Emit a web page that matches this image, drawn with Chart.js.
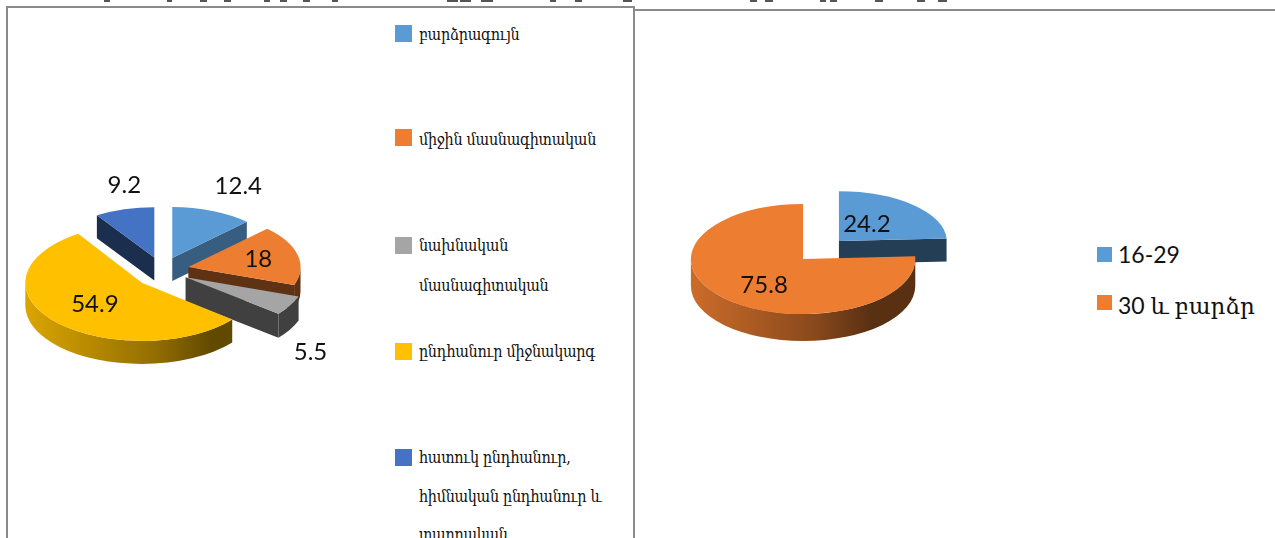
<!DOCTYPE html>
<html lang="hy"><head><meta charset="utf-8">
<script src="https://cdn.jsdelivr.net/npm/chart.js@4"></script>
<style>
html,body{margin:0;padding:0;background:#fff;overflow:hidden;width:1275px;height:538px}
#page{position:relative;width:1275px;height:538px;overflow:hidden}
.frame{position:absolute;box-sizing:border-box;border:0 solid #8a8a8a}
#f1{left:6px;top:6px;width:629px;height:540px;border-width:2px}
#f2{left:635px;top:9px;width:640px;height:2px;background:#8a8a8a}
canvas{position:absolute}
#c1{left:-8px;top:100px}
#c2{left:651px;top:78px}
.sw{position:absolute}
.st{position:absolute;top:0;height:2px;background:#555}
.lg{position:absolute;white-space:nowrap;color:#111}
.l1{font:16px/20px "DejaVu Serif Condensed","DejaVu Serif",serif;letter-spacing:-.3px}
.l2{font:23px/30px Lato,"DejaVu Serif",sans-serif}
</style></head><body><div id="page">
<div class="frame" id="f1"></div><div class="frame" id="f2"></div>
<canvas id="c1" width="340" height="340" style="width:340px;height:340px"></canvas>
<canvas id="c2" width="340" height="340" style="width:340px;height:340px"></canvas>
</div>
<script>
const eduLabels=["բարձրագույն","միջին մասնագիտական","նախնական մասնագիտական","ընդհանուր միջնակարգ","հատուկ ընդհանուր, հիմնական ընդհանուր և տարրական"];
const eduValues=[12.4,18,5.5,54.9,9.2];
const eduColors=["#5b9bd5","#ed7d31","#a5a5a5","#ffc000","#4472c4"];
const ageLabels=["16-29","30 և բարձր"];
const ageValues=[24.2,75.8];
const ageColors=["#5b9bd5","#ed7d31"];
const eduLegendLines=[["բարձրագույն"],["միջին մասնագիտական"],["նախնական","մասնագիտական"],["ընդհանուր միջնակարգ"],["հատուկ ընդհանուր,","հիմնական ընդհանուր և","տարրական"]];

const page=document.getElementById('page');
function shade(hex,f){const n=parseInt(hex.slice(1),16);const c=[n>>16,(n>>8)&255,n&255].map(v=>Math.round(v*f));return `rgb(${c})`;}
function rimSegs(s,e){
  const out=[],t=Math.PI*2;
  for(let n=-2;n<=2;n++){const u=Math.max(s,n*t),v=Math.min(e,n*t+Math.PI);if(v>u)out.push([u,v]);}
  return out;
}
const tilt={
  id:'tilt',
  beforeDatasetDraw(chart,args,o){
    const ctx=chart.ctx,els=args.meta.data;
    const info=els.map((el,i)=>{
      const p=el.getProps(['x','y','startAngle','endAngle','outerRadius','circumference'],true);
      const mid=p.startAngle+p.circumference/2, ratio=o.ratios[i];
      const cx=p.x+Math.cos(mid)*o.explode, cy=p.y+Math.sin(mid)*o.explode*.48+o.shift[i];
      const k=o.scales[i], R=p.outerRadius*k, Ry=R*ratio;
      return {el,i,x:p.x,y:p.y,cx,cy,R,Ry,ratio,s:p.startAngle,e:p.endAngle,k,depth:o.depths[i]};
    });
    const order=[...info].sort((a,b)=>a.cy-b.cy);
    order.forEach(a=>{
      const col=o.colors[a.i], wall=shade(col,o.wall[a.i]), depth=a.depth;
      const edge=(ang)=>{
        const ex=a.cx+a.R*Math.cos(ang), ey=a.cy+a.Ry*Math.sin(ang);
        ctx.beginPath();ctx.moveTo(a.cx,a.cy);ctx.lineTo(ex,ey);ctx.lineTo(ex,ey+depth);ctx.lineTo(a.cx,a.cy+depth);ctx.closePath();
        ctx.fillStyle=wall;ctx.fill();
      };
      if(Math.cos(a.e)>0.02) edge(a.e);
      if(Math.cos(a.s)<-0.02) edge(a.s);
      rimSegs(a.s,a.e).forEach(([u,v])=>{
        let fill=wall;
        if(o.gradient[a.i]){
          const g=ctx.createLinearGradient(a.cx-a.R,0,a.cx+a.R,0);
          g.addColorStop(0,shade(col,.86));g.addColorStop(.55,shade(col,.58));g.addColorStop(.8,shade(col,.38));g.addColorStop(1,shade(col,.38));
          fill=g;
        }
        ctx.beginPath();ctx.ellipse(a.cx,a.cy,a.R,a.Ry,0,u,v,false);
        ctx.lineTo(a.cx+a.R*Math.cos(v),a.cy+a.Ry*Math.sin(v)+depth);
        ctx.ellipse(a.cx,a.cy+depth,a.R,a.Ry,0,v,u,true);ctx.closePath();ctx.fillStyle=fill;ctx.fill();
      });
    });
    order.forEach(a=>{
      ctx.save();
      ctx.translate(a.cx,a.cy);ctx.scale(a.k,a.k*a.ratio);ctx.translate(-a.x,-a.y);
      a.el.draw(ctx,chart.chartArea);
      ctx.restore();
    });
    ctx.save();
    ctx.font=o.font;ctx.fillStyle='#111';ctx.textAlign='center';ctx.textBaseline='middle';
    info.forEach(a=>{
      ctx.fillText(String(chart.data.datasets[0].data[a.i]),a.cx+o.labelShift[a.i][0],a.cy+o.labelShift[a.i][1]);
    });
    ctx.restore();
    return false;
  }
};
function pie(id,labels,values,colors,o){
  new Chart(document.getElementById(id),{
    type:'pie',
    data:{labels,datasets:[{data:values,backgroundColor:colors,borderWidth:0,hoverOffset:0}]},
    options:{responsive:false,animation:false,events:[],radius:o.radius,layout:{padding:0},
      plugins:{legend:{display:false},tooltip:{enabled:false},title:{display:false},tilt:Object.assign({colors},o)}},
    plugins:[tilt]
  });
}
pie('c1',eduLabels,eduValues,eduColors,{radius:110,explode:27,depths:[23,24,24,23,23],
  ratios:[.48,.48,.48,.5,.48],shift:[0,0,1,4,0],
  scales:[.965,1.02,1.09,1.06,.955],wall:[.6,.4,.39,.4,.4],
  gradient:[false,false,false,true,false],
  labelShift:[[66,-72],[70,-8],[125,75],[-47,22],[-30,-72]],
  font:'24px Lato,sans-serif'});
pie('c2',ageLabels,ageValues,ageColors,{radius:110,explode:26,depths:[23,27],
  ratios:[.46,.49],shift:[2,2],
  scales:[.98,1.02],wall:[.4,.4],
  gradient:[false,true],
  labelShift:[[28,-17],[-39,26]],
  font:'24px Lato,sans-serif'});

function swatch(x,y,s,c){const d=document.createElement('div');d.className='sw';d.style.cssText+=`left:${x}px;top:${y}px;width:${s}px;height:${s}px;background:${c}`;page.appendChild(d);}
function text(x,cy,t,cls,h){const d=document.createElement('div');d.className='lg '+cls;d.textContent=t;d.style.left=x+'px';d.style.top=(cy-h/2)+'px';page.appendChild(d);}
const eduSwatchY=[33,137,245,351,457];
const eduTextY=[[35],[140],[246,286],[352],[458,497,535]];
eduLegendLines.forEach((ls,i)=>{
  swatch(395,eduSwatchY[i]-8,17,eduColors[i]);
  ls.forEach((t,j)=>text(419,eduTextY[i][j],t,'l1',20));
});
ageLabels.forEach((t,i)=>{
  const cy=[254,302][i];
  swatch(1097,cy-7,15,ageColors[i]);
  text(1118,cy+(i?3:0),t,'l2',30);
});
// bottoms of a heading line cut off by the top edge of the picture
const headingStubs=[[104,6],[167,5],[200,7],[224,7],[264,6],[280,7],[303,7],[332,6],[447,11],[460,11],[481,12],[550,6],[575,7],[623,9],[750,7],[765,8],[820,6],[830,7],[875,8],[917,8],[938,9]];
headingStubs.forEach(([x,w])=>{const d=document.createElement('div');d.className='st';d.style.left=x+'px';d.style.width=w+'px';page.appendChild(d);});
</script></body></html>
